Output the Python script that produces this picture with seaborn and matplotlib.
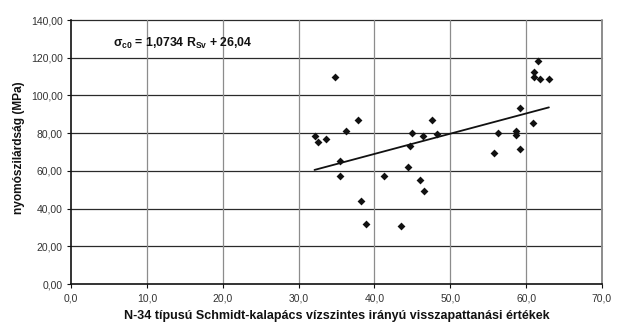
import matplotlib
matplotlib.use("Agg")
import matplotlib.pyplot as plt
import seaborn as sns
import numpy as np
import pandas as pd
from matplotlib.ticker import FuncFormatter, MultipleLocator

# Data
rebound = [32.1, 32.6, 33.6, 34.8, 36.3, 37.9, 35.4, 35.4, 38.2, 38.9,
           41.2, 43.5, 44.4, 44.7, 45.0, 46.0, 46.4, 46.6, 47.6, 48.3,
           55.7, 56.3, 58.7, 58.7, 59.2, 59.2, 60.9, 61.6, 61.1, 61.0,
           61.8, 63.0]
strength = [78.7, 75.5, 76.9, 109.6, 81.3, 87.0, 65.1, 57.5, 44.2, 32.0,
            57.5, 30.6, 61.9, 73.4, 79.9, 55.0, 78.4, 49.5, 87.2, 79.4,
            69.3, 79.9, 81.3, 79.0, 93.4, 71.5, 85.4, 118.5, 112.3, 109.7,
            108.8, 108.8]
slope = 1.0734
intercept = 26.04
equation_label = r"$\sigma_{c0}$ = 1,0734 R$_{Sv}$ + 26,04"
x_label = "N-34 típusú Schmidt-kalapács vízszintes irányú visszapattanási értékek"
y_label = "nyomószilárdság (MPa)"

sns.set_theme(style="white")
plt.rcParams['font.family'] = ['Liberation Sans', 'DejaVu Sans']
plt.rcParams['mathtext.fontset'] = 'custom'
plt.rcParams['mathtext.rm'] = 'Liberation Sans:bold'
plt.rcParams['mathtext.it'] = 'Liberation Sans:bold'
plt.rcParams['mathtext.bf'] = 'Liberation Sans:bold'

df = pd.DataFrame({"x": rebound, "y": strength})
xs = np.array([min(rebound), max(rebound)])
trend = pd.DataFrame({"x": xs, "y": slope * xs + intercept})

fig = plt.figure(figsize=(6.17, 3.23), dpi=100)
ax = fig.add_axes([71/617, 1 - 284/323, (602 - 71)/617, (284 - 20)/323])

sns.lineplot(data=trend, x="x", y="y", ax=ax, color="#111111", linewidth=1.3)
sns.scatterplot(data=df, x="x", y="y", ax=ax, marker="D", s=16,
                color="#111111", linewidth=0, zorder=3)

ax.set_xlim(0, 70)
ax.set_ylim(0, 140)
ax.xaxis.set_major_locator(MultipleLocator(10))
ax.yaxis.set_major_locator(MultipleLocator(20))
ax.xaxis.set_major_formatter(FuncFormatter(lambda v, p: f"{v:.1f}".replace(".", ",")))
ax.yaxis.set_major_formatter(FuncFormatter(lambda v, p: f"{v:.2f}".replace(".", ",")))

ax.grid(False)
for yv in np.arange(20, 141, 20):
    ax.axhline(yv, color="#2a2a2a", linewidth=0.9, zorder=0, clip_on=False)
for xv in np.arange(10, 71, 10):
    ax.axvline(xv, color="#8c8c8c", linewidth=0.9 if xv < 70 else 1.4, zorder=0, clip_on=False)

for s in ["top", "right"]:
    ax.spines[s].set_visible(False)
for s in ["left", "bottom"]:
    ax.spines[s].set_color("#111111")
    ax.spines[s].set_linewidth(1.2)

ax.tick_params(axis="both", which="major", direction="out", length=3, width=0.8,
               color="#111111", labelsize=7.5, labelcolor="#333333", pad=3)
ax.tick_params(axis="x", bottom=True, pad=4)
ax.tick_params(axis="y", left=True)

ax.set_xlabel(x_label, fontsize=9.0, fontweight="bold", color="#111111", va="center")
ax.xaxis.set_label_coords(0.5, (284 - 316) / 264)
ax.set_ylabel(y_label, fontsize=8.6, fontweight="bold", color="#111111", va="center")
ax.yaxis.set_label_coords((19 - 71) / 531, 0.517)

t = ax.text(0, 0, equation_label, fontsize=8.8, fontweight="bold",
            color="#111111", va="center", ha="left")
t.set_transform(fig.dpi_scale_trans)
t.set_position((113/100, (323 - 43)/100))

fig.savefig("out.png", dpi=100, facecolor="white")
